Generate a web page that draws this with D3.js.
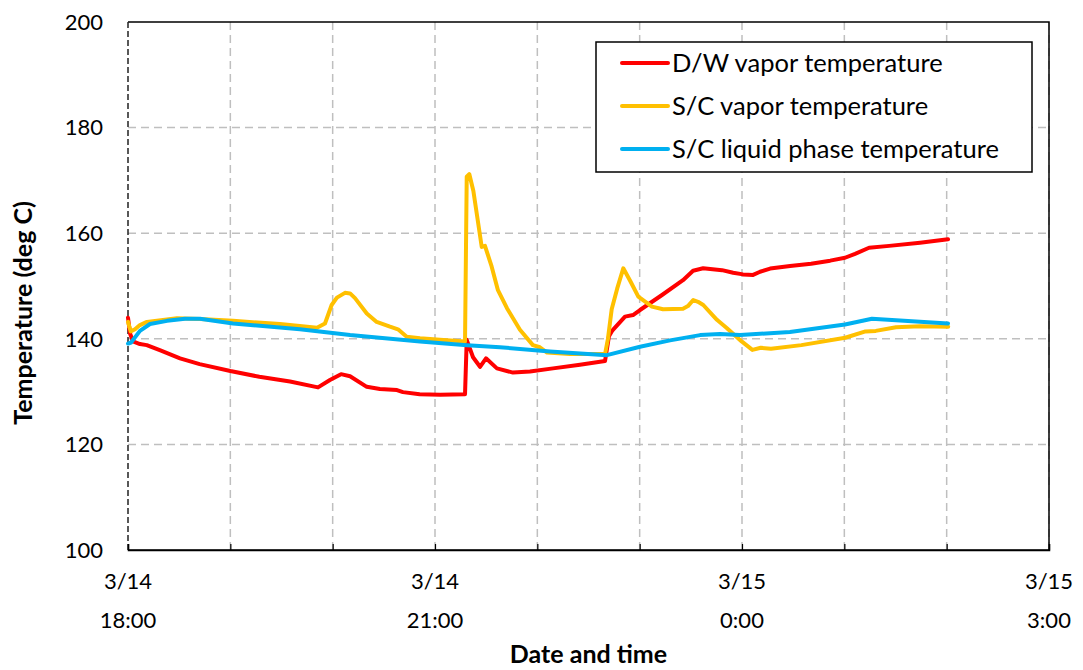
<!DOCTYPE html>
<html>
<head>
<meta charset="utf-8">
<script src="https://cdn.jsdelivr.net/npm/d3@7"></script>
<style>
  html, body { margin: 0; padding: 0; background: #fff; }
  svg { display: block; font-family: Lato, "Open Sans", sans-serif; }
</style>
</head>
<body>
<svg id="chart" width="1083" height="670"></svg>
<script>
// ---- data (minutes after 3/14 18:00, temperature deg C) ----
const seriesNames = ["D/W vapor temperature", "S/C vapor temperature", "S/C liquid phase temperature"];
const seriesColors = ["#ff0000", "#ffc000", "#00b0f0"];

const dwVapor = [
  [0,144.0],[1.2,141.0],[2.9,139.5],[7,139.0],[11,138.8],[19,137.8],[30.5,136.3],[42,135.2],
  [60,133.9],[77,132.8],[95,131.9],[111.4,130.8],[118.4,132.2],[124.9,133.3],[130.2,132.9],
  [140,130.9],[147.7,130.5],[157.7,130.3],[161.2,129.9],[171,129.5],[183,129.4],[197.6,129.5],
  [198.6,139.8],[202.3,136.5],[206.4,134.7],[209.9,136.3],[216.3,134.4],[225.7,133.6],[235.7,133.8],
  [249.2,134.4],[265,135.1],[279.7,135.8],[282,140.5],[283.8,141.5],[291.4,144.2],[296.1,144.5],
  [300.2,145.45],[313.1,148.3],[325.4,151.1],[331.3,152.9],[337.2,153.35],[348.3,153.0],[354.8,152.5],
  [360.6,152.2],[366.5,152.1],[370.6,152.7],[376.5,153.3],[388.2,153.8],[400.5,154.2],[411.7,154.8],
  [420.4,155.35],[426.3,156.1],[434.5,157.25],[446.3,157.6],[464.4,158.2],[480.8,158.85]
];

const scVapor = [
  [0,143.2],[1.6,141.4],[4.1,141.8],[7,142.6],[11.1,143.2],[28.7,143.9],[42.2,143.75],[61.6,143.4],
  [89.1,142.8],[110.8,142.1],[115.5,142.9],[119.4,146.4],[122.5,147.8],[127.2,148.7],[130.2,148.6],
  [133.1,147.7],[140,144.8],[145.8,143.2],[153.6,142.3],[158.3,141.8],[163.4,140.4],[171.2,140.1],
  [182.9,139.8],[197.6,139.5],[198.6,170.7],[200.1,171.2],[202.5,168.0],[207.4,157.4],[209.3,157.6],
  [213.2,153.7],[216.9,149.2],[222.2,145.8],[229.8,141.7],[237.4,138.8],[241.5,138.4],[245.7,137.4],
  [259.1,137.1],[279.7,137.1],[281.4,140],[283.6,145.6],[286.8,149.5],[290.4,153.35],[294.4,151.0],
  [299.2,148.0],[307.2,146.1],[313.7,145.6],[325.4,145.7],[328.3,146.2],[331.4,147.35],[334.2,147.0],
  [337.3,146.4],[345.3,143.6],[351.2,142.0],[359.8,139.5],[366.1,137.9],[371,138.3],[377,138.1],
  [394.8,138.8],[420.5,140.2],[432.4,141.4],[438.4,141.5],[450.3,142.2],[464.4,142.4],[480.9,142.3]
];

const scLiquid = [
  [0,139.1],[1.8,139.3],[7,141.5],[12.9,142.8],[22.9,143.4],[33.4,143.8],[42.2,143.8],[61.6,142.9],
  [100.8,141.8],[130.2,140.7],[171.2,139.5],[198.8,138.8],[218.1,138.4],[247.4,137.6],[280.8,136.9],
  [300.2,138.5],[317.8,139.7],[335.4,140.7],[347.1,140.9],[358.8,140.7],[388.1,141.3],[420.4,142.7],
  [436.2,143.8],[480.8,142.9]
];

const yTicks = [100, 120, 140, 160, 180, 200];
const xLabelDates = ["3/14", "3/14", "3/15", "3/15"];
const xLabelTimes = ["18:00", "21:00", "0:00", "3:00"];
const xTitle = "Date and time";
const yTitle = "Temperature (deg C)";

// ---- layout ----
const svg = d3.select("#chart");
const L = 128, R = 1049, T = 22, B = 550;
const start = new Date(2011, 2, 14, 18, 0);
const end = new Date(2011, 2, 15, 3, 0);

const x = d3.scaleTime().domain([start, end]).range([L, R]);
const y = d3.scaleLinear().domain([100, 200]).range([B, T]);
const toDate = m => new Date(start.getTime() + m * 60000);

// gridlines
const hours = d3.timeHour.range(start, d3.timeHour.offset(end, 1));
const grid = svg.append("g");
grid.selectAll("line.v").data(hours.slice(1)).join("line")
  .attr("x1", d => x(d)).attr("x2", d => x(d)).attr("y1", T).attr("y2", B)
  .attr("stroke", "#bfbfbf").attr("stroke-width", 1.5).attr("stroke-dasharray", "8,5");
grid.selectAll("line.h").data(yTicks.slice(1, -1)).join("line")
  .attr("x1", L).attr("x2", R).attr("y1", d => y(d)).attr("y2", d => y(d))
  .attr("stroke", "#bfbfbf").attr("stroke-width", 1.5).attr("stroke-dasharray", "8,5");

// frame
svg.append("path").attr("d", `M${L},${T}H${R}V${B}H${L}`)
  .attr("fill", "none").attr("stroke", "#000").attr("stroke-width", 1.5);
svg.append("line").attr("x1", L).attr("x2", L).attr("y1", T).attr("y2", B)
  .attr("stroke", "#222").attr("stroke-width", 1.5).attr("stroke-dasharray", "6,3");

// x axis ticks (inward)
const xAxis = d3.axisBottom(x).ticks(d3.timeHour.every(1)).tickSize(-6).tickFormat("");
const gx = svg.append("g").attr("transform", `translate(0,${B})`).call(xAxis);
gx.select(".domain").attr("stroke", "#000").attr("stroke-width", 1.5);
gx.selectAll(".tick line").attr("stroke", "#000").attr("stroke-width", 1.2);

// x labels
const labelHours = d3.timeHour.every(3).range(start, d3.timeHour.offset(end, 1));
labelHours.forEach((d, i) => {
  const t = svg.append("text").attr("x", x(d)).attr("text-anchor", "middle")
    .attr("font-size", 22).attr("fill", "#000");
  t.append("tspan").attr("x", x(d)).attr("y", 589).text(xLabelDates[i]);
  t.append("tspan").attr("x", x(d)).attr("y", 628).text(xLabelTimes[i]);
});

// y labels
svg.selectAll("text.ylab").data(yTicks).join("text").attr("class", "ylab")
  .attr("x", 103).attr("y", d => y(d)).attr("dy", "0.35em").attr("text-anchor", "end")
  .attr("font-size", 22).attr("fill", "#000").text(d => d);

// titles
svg.append("text").attr("x", (L + R) / 2).attr("y", 663).attr("text-anchor", "middle")
  .attr("font-size", 25).attr("font-weight", "bold").text(xTitle);
svg.append("text").attr("transform", `translate(32,313) rotate(-90)`).attr("text-anchor", "middle")
  .attr("font-size", 25).attr("font-weight", "bold").text(yTitle);

// lines
const line = d3.line().x(d => x(toDate(d[0]))).y(d => y(d[1]));
const allSeries = [dwVapor, scVapor, scLiquid];
allSeries.forEach((s, i) => {
  svg.append("path").datum(s).attr("d", line).attr("fill", "none")
    .attr("stroke", seriesColors[i]).attr("stroke-width", 4)
    .attr("stroke-linejoin", "round").attr("stroke-linecap", "round");
});

// legend
const lg = svg.append("g");
lg.append("rect").attr("x", 596).attr("y", 42).attr("width", 436).attr("height", 130)
  .attr("fill", "#fff").attr("stroke", "#000").attr("stroke-width", 1.5);
const legY = [63, 106, 149];
seriesNames.forEach((n, i) => {
  lg.append("line").attr("x1", 622).attr("x2", 668).attr("y1", legY[i]).attr("y2", legY[i])
    .attr("stroke", seriesColors[i]).attr("stroke-width", 4).attr("stroke-linecap", "round");
  lg.append("text").attr("x", 672).attr("y", legY[i]).attr("dy", "0.35em")
    .attr("font-size", 25.5).attr("fill", "#000").text(n);
});
</script>
</body>
</html>
